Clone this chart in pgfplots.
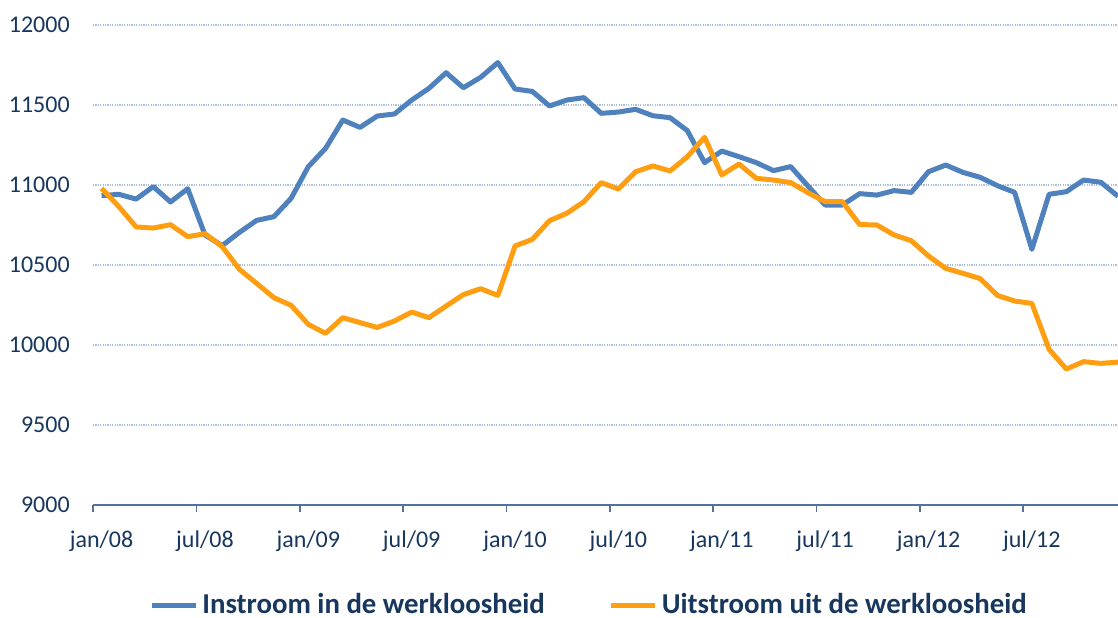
\documentclass[border=0pt]{standalone}
\usepackage{pgfplots}
\usepackage{pgfplotstable}
\pgfplotsset{compat=1.18}
\usepackage{fontspec}
\setmainfont{Carlito}

\definecolor{instroom}{RGB}{79,129,189}
\definecolor{uitstroom}{RGB}{255,158,17}
\definecolor{navy}{RGB}{23,55,94}
\definecolor{gridblue}{RGB}{170,192,225}
\definecolor{axisblue}{RGB}{84,113,158}

% maand 0 = jan/08
\pgfplotstableread{
m  in     uit
0  10933  10979
1  10942  10865
2  10912  10738
3  10990  10731
4  10894  10752
5  10977  10677
6  10688  10696
7  10621  10615
8  10704  10473
9  10779  10385
10 10802  10296
11 10917  10248
12 11115  10129
13 11229  10073
14 11406  10171
15 11360  10140
16 11431  10110
17 11444  10150
18 11531  10206
19 11604  10171
20 11702  10244
21 11608  10315
22 11673  10352
23 11765  10310
24 11600  10619
25 11585  10660
26 11494  10777
27 11531  10823
28 11546  10896
29 11448  11015
30 11456  10975
31 11473  11083
32 11433  11119
33 11421  11088
34 11340  11177
35 11140  11298
36 11212  11063
37 11177  11131
38 11140  11042
39 11090  11031
40 11115  11015
41 10994  10952
42 10875  10896
43 10875  10896
44 10946  10753
45 10937  10750
46 10965  10688
47 10954  10652
48 11083  10556
49 11125  10479
50 11079  10448
51 11048  10415
52 10996  10310
53 10954  10275
54 10598  10260
55 10942  9973
56 10958  9850
57 11031  9896
58 11017  9885
59 10930  9893
}\werkloos

\begin{document}
\begin{tikzpicture}
\begin{axis}[
  at={(0,0)}, anchor=south west,
  scale only axis, width=512.5pt, height=240pt,
  xmin=-0.5, xmax=59, ymin=9000, ymax=12000,
  axis x line=bottom, axis y line=left,
  x axis line style={-, draw=axisblue, line width=0.8pt},
  y axis line style={draw=none},
  ytick={9000,9500,...,12000},
  scaled y ticks=false,
  ytick style={draw=none},
  ymajorgrids,
  grid style={gridblue, line width=0.7pt, dash pattern=on 0.6pt off 0.6pt},
  xtick={0,6,...,54},
  xticklabels={jan/08,jul/08,jan/09,jul/09,jan/10,jul/10,jan/11,jul/11,jan/12,jul/12},
  xtick style={draw=none},
  extra x ticks={-0.5,5.5,...,53.5},
  extra x tick labels={,,,,,,,,,,,},
  extra x tick style={tick align=outside, major tick length=3.3pt,
    xtick style={draw=axisblue, line width=0.8pt}},
  tick label style={font=\fontsize{12}{14}\selectfont, text=navy},
  x tick label style={yshift=-7pt},
  y tick label style={xshift=-6pt},
  /pgf/number format/1000 sep={},
  /pgf/number format/assume math mode=true,
  legend style={at={(0.485,-0.209)}, anchor=center, legend columns=2,
    draw=none, fill=none, text=navy,
    font=\fontsize{14.4}{16}\selectfont\bfseries,
    /tikz/every even column/.append style={column sep=30pt}},
  legend image code/.code={\draw[#1] (0pt,0pt) -- (22pt,0pt);},
]
\addplot[instroom, line width=2.5pt, line join=round] table[x=m, y=in] {\werkloos};
\addlegendentry{Instroom in de werkloosheid}
\addplot[uitstroom, line width=2.5pt, line join=round] table[x=m, y=uit] {\werkloos};
\addlegendentry{Uitstroom uit de werkloosheid}
\end{axis}
\pgfresetboundingbox
\path[use as bounding box] (-46.5pt,-56pt) rectangle (512.5pt,252.5pt);
\end{tikzpicture}
\end{document}
